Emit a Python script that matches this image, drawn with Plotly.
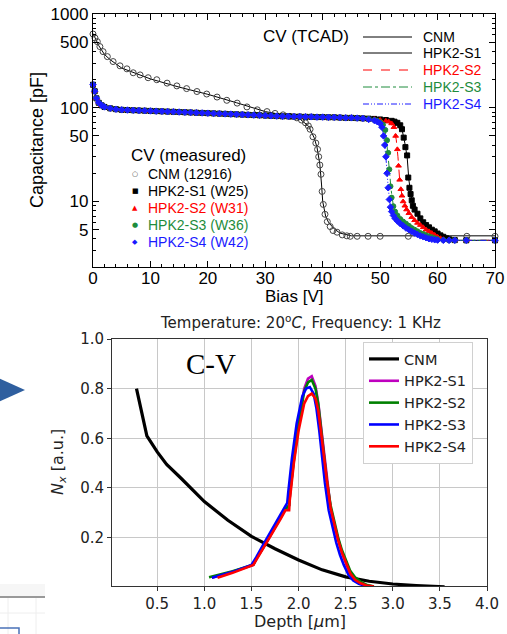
import plotly.graph_objects as go

W, H = 507, 634


def px(x):
    return x / W


def py(y):
    return 1 - y / H


# ---- top chart: CV measured / TCAD ----
cnm_bias = [0, 0.35, 0.75, 1.2, 1.75, 2.5, 3.5, 4.7, 5.9, 7, 8.2, 9.6, 11.1, 12.9, 14.6, 16.3, 18.1,
            19.8, 21.6, 23.3, 25.1, 26.8, 28.6, 30.3, 31.7, 33.1, 34.3, 35.5, 36.3, 37, 37.5, 37.8,
            38.3, 38.8, 39.1, 39.3, 39.5, 39.7, 39.9, 40.1, 40.4, 40.8, 41.3, 41.8, 42.5, 43.4, 44.2,
            44.8, 46, 47.9, 50, 54.9, 65.1, 70]
cnm_cap = [612, 555, 507, 449, 397, 351, 311, 280, 260, 236, 224, 209, 199, 183, 171, 160, 149,
           140, 130, 120, 112, 102, 95, 91, 87, 84, 81, 78, 74, 69, 64, 59,
           49, 42, 36, 30, 24.5, 19.5, 12.8, 9.3, 7.3, 6.1, 5.4, 4.9, 4.7, 4.4, 4.3,
           4.25, 4.25, 4.25, 4.25, 4.25, 4.25, 4.25]

# HPK measured: common plateau up to 47 V, then each sample's own tail
plateau_bias = [0, 0.3, 0.6, 1, 1.5, 2, 3, 4, 5, 6, 7, 8, 9, 10, 11, 12, 13, 14, 15, 16, 17, 18,
                19, 20, 21, 22, 23, 24, 25, 26, 27, 28, 29, 30, 31, 32, 33, 34, 35, 36, 37, 38,
                39, 40, 41, 42, 43, 44, 45, 46, 47]
plateau_cap = [176, 150, 126, 113, 106, 102, 98.5, 96.5, 95, 94.5, 94, 93.5, 93, 92.5, 92, 91.5,
               91, 90.5, 90, 89.5, 89, 88.5, 88, 87.5, 87, 86.5, 86, 85.5, 85, 84.5, 84, 83.5,
               83, 82.5, 82, 81.5, 81, 81, 80.5, 80.5, 80, 80, 79.5, 79.5, 79, 79, 78.5, 78, 78,
               77.5, 77]

s1_tail_bias = [48, 49, 50, 51, 52, 52.5, 53, 53.5, 53.8, 54.1, 54.4, 54.7, 54.9, 55.1, 55.3, 55.5,
                55.7, 56, 56.5, 57, 57.5, 58, 58.5, 59, 59.5, 60, 60.5, 61, 61.5, 62, 63, 65, 70]
s1_tail_cap = [76.5, 76, 75, 74, 72.5, 71, 69, 65, 59, 48, 38, 31, 18, 14, 12, 10.3,
               9, 8.2, 7.4, 6.6, 6.0, 5.6, 5.3, 5.0, 4.8, 4.55, 4.35, 4.2, 4.05, 3.95, 3.87, 3.85, 3.85]

s2_tail_bias = [48, 49, 50, 51, 51.5, 52, 52.4, 52.7, 53.0, 53.2, 53.4, 53.6, 53.8, 54.0, 54.3, 54.6,
                55, 55.5, 56, 56.5, 57, 57.5, 58, 58.5, 59, 59.5, 60, 60.5, 61, 62, 63, 65, 70]
s2_tail_cap = [76.5, 75.5, 74, 72.5, 71, 68, 62, 50, 36, 24, 17, 13.5, 11.5, 10, 9, 8.2,
               7.5, 6.8, 6.3, 5.9, 5.6, 5.3, 5.0, 4.8, 4.6, 4.4, 4.2, 4.05, 3.95, 3.87, 3.85, 3.85, 3.85]

s3_tail_bias = [48, 49, 49.5, 50, 50.5, 50.9, 51.2, 51.4, 51.6, 51.8, 52.0, 52.3, 52.6, 53, 53.5, 54,
                54.5, 55, 55.5, 56, 56.5, 57, 57.5, 58, 58.5, 59, 59.5, 60, 61, 62, 63, 65, 70]
s3_tail_cap = [76, 74, 72.5, 70, 66, 58, 45, 33, 22, 14.5, 11, 8.9, 7.8, 7.1, 6.5, 6.1,
               5.8, 5.5, 5.2, 5.0, 4.8, 4.6, 4.5, 4.35, 4.25, 4.15, 4.05, 3.95, 3.88, 3.85, 3.85, 3.85, 3.85]

s4_tail_bias = [48, 49, 49.5, 50, 50.3, 50.6, 50.8, 51.0, 51.2, 51.4, 51.6, 51.8, 52.0, 52.3, 52.6, 53,
                53.5, 54, 54.5, 55, 55.5, 56, 56.5, 57, 57.5, 58, 58.5, 59, 59.5, 60, 61, 62, 63, 65, 70]
s4_tail_cap = [75, 73, 71, 68, 62, 50, 40, 30, 20, 14, 10.5, 8.7, 7.8, 7.1, 6.6, 6.2,
               5.8, 5.5, 5.2, 5.0, 4.8, 4.6, 4.45, 4.3, 4.2, 4.1, 4.0, 3.95, 3.9, 3.87, 3.85, 3.85, 3.85, 3.85, 3.85]

# TCAD simulation curves
tcad_cnm_bias = [0, 0.5, 1, 2, 3, 5, 7.5, 10, 15, 20, 25, 30, 34, 36, 37.5, 38.5, 39, 39.5, 39.8, 40,
                 40.5, 41, 42, 43, 45, 50, 60, 70]
tcad_cnm_cap = [620, 530, 460, 370, 325, 265, 230, 203, 166, 139, 113, 91, 82, 76, 64, 48, 38, 25, 15, 10,
                7, 6.0, 5.1, 4.6, 4.3, 4.3, 4.3, 4.3]
tcad_s1_bias = [0, 0.5, 1, 2, 4, 10, 20, 30, 40, 46, 50, 52, 53, 53.8, 54.3, 54.7, 55, 55.5, 56, 57,
                58, 60, 62, 64, 70]
tcad_s1_cap = [172, 135, 114, 102, 96.5, 92.5, 87.5, 82.5, 79.5, 77.5, 75, 72.5, 69, 59, 42, 30, 17, 10.5, 8.2, 6.6,
               5.6, 4.55, 3.95, 3.85, 3.85]
tcad_s2_bias = [0, 0.5, 1, 2, 4, 10, 20, 30, 40, 46, 50, 51.5, 52.3, 52.8, 53.1, 53.4, 53.8, 54.3, 55, 56,
                57, 58, 60, 62, 64, 70]
tcad_s2_cap = [172, 135, 114, 102, 96.5, 92.5, 87.5, 82.5, 79.5, 77.5, 74, 71, 62, 46, 30, 17, 11.5, 9, 7.5, 6.3,
               5.6, 5.0, 4.2, 3.87, 3.85, 3.85]
tcad_s3_bias = [0, 0.5, 1, 2, 4, 10, 20, 30, 40, 46, 49, 50.5, 51, 51.3, 51.6, 51.9, 52.3, 53, 54, 55,
                56, 58, 60, 62, 70]
tcad_s3_cap = [172, 135, 114, 102, 96.5, 92.5, 87.5, 82.5, 79.5, 77.5, 74, 66, 52, 36, 22, 13.5, 9, 7.1, 6.1, 5.5,
               5.0, 4.35, 3.95, 3.85, 3.85]
tcad_s4_bias = [0, 0.5, 1, 2, 4, 10, 20, 30, 40, 46, 49, 50, 50.5, 50.8, 51.1, 51.4, 51.8, 52.5, 53.5, 55,
                56, 58, 60, 62, 70]
tcad_s4_cap = [172, 135, 114, 102, 96.5, 92.5, 87.5, 82.5, 79.5, 77.5, 73, 68, 55, 40, 25, 14, 8.7, 6.8, 5.8, 5.0,
               4.6, 4.1, 3.87, 3.85, 3.85]

# ---- bottom chart: C-V profiles ----
depth_cnm = [0.28, 0.39, 0.5, 0.6, 0.75, 1.0, 1.25, 1.5, 1.75, 2.0, 2.25, 2.5, 2.75, 3.0, 3.25, 3.5, 3.55]
nx_cnm = [0.80, 0.61, 0.545, 0.495, 0.44, 0.345, 0.27, 0.205, 0.155, 0.11, 0.07, 0.042, 0.024, 0.013,
          0.007, 0.003, 0.002]

depth_s1 = [1.08, 1.3, 1.52, 1.56, 1.65, 1.72, 1.81, 1.86, 1.9, 1.91, 1.95, 2.0, 2.06, 2.1, 2.14,
            2.18, 2.21, 2.24, 2.27, 2.3, 2.34, 2.38, 2.42, 2.46, 2.5, 2.55, 2.6, 2.66, 2.72, 2.8]
nx_s1 = [0.038, 0.062, 0.09, 0.12, 0.175, 0.22, 0.28, 0.315, 0.33, 0.38, 0.52, 0.66, 0.8, 0.84, 0.85,
         0.81, 0.74, 0.64, 0.53, 0.43, 0.32, 0.25, 0.19, 0.14, 0.1, 0.055, 0.03, 0.016, 0.007, 0.003]
depth_s2 = [1.05, 1.3, 1.52, 1.56, 1.65, 1.72, 1.81, 1.86, 1.9, 1.91, 1.95, 2.0, 2.06, 2.1, 2.14,
            2.18, 2.21, 2.24, 2.27, 2.3, 2.34, 2.38, 2.42, 2.46, 2.5, 2.55, 2.6, 2.66, 2.72, 2.8]
nx_s2 = [0.04, 0.064, 0.091, 0.12, 0.175, 0.22, 0.28, 0.315, 0.33, 0.38, 0.51, 0.65, 0.79, 0.825, 0.835,
         0.8, 0.735, 0.64, 0.53, 0.43, 0.33, 0.26, 0.2, 0.15, 0.11, 0.065, 0.04, 0.022, 0.01, 0.003]
depth_s3 = [1.08, 1.3, 1.5, 1.55, 1.63, 1.7, 1.79, 1.84, 1.88, 1.89, 1.93, 1.98, 2.04, 2.08, 2.12,
            2.16, 2.19, 2.22, 2.25, 2.28, 2.32, 2.36, 2.4, 2.44, 2.48, 2.53, 2.58, 2.64, 2.7, 2.78]
nx_s3 = [0.038, 0.062, 0.09, 0.12, 0.175, 0.22, 0.28, 0.315, 0.34, 0.38, 0.52, 0.66, 0.77, 0.8, 0.806,
         0.78, 0.72, 0.63, 0.52, 0.42, 0.31, 0.24, 0.18, 0.13, 0.09, 0.05, 0.027, 0.014, 0.006, 0.002]
depth_s4 = [1.14, 1.3, 1.52, 1.56, 1.65, 1.72, 1.81, 1.86, 1.9, 1.905, 1.95, 2.0, 2.06, 2.1, 2.14,
            2.18, 2.21, 2.24, 2.27, 2.3, 2.34, 2.38, 2.42, 2.46, 2.5, 2.55, 2.6, 2.66, 2.72, 2.8]
nx_s4 = [0.038, 0.058, 0.09, 0.115, 0.17, 0.215, 0.275, 0.31, 0.31, 0.345, 0.5, 0.63, 0.74, 0.77, 0.78,
         0.76, 0.71, 0.62, 0.52, 0.43, 0.32, 0.25, 0.19, 0.14, 0.1, 0.055, 0.03, 0.016, 0.007, 0.003]

RED = "#ff0000"
GREEN = "#1e8c3c"
BLUE = "#1a1aff"
ARIAL = "Liberation Sans, Arial"
DEJAVU = "DejaVu Sans"

fig = go.Figure()

# TCAD lines
tcad = [
    (tcad_cnm_bias, tcad_cnm_cap, "black", "solid"),
    (tcad_s1_bias, tcad_s1_cap, "black", "solid"),
    (tcad_s2_bias, tcad_s2_cap, RED, "dash"),
    (tcad_s3_bias, tcad_s3_cap, GREEN, "dashdot"),
    (tcad_s4_bias, tcad_s4_cap, BLUE, "6px,2px,1px,2px,1px,2px"),
]
for xb, yc, col, dash in tcad:
    fig.add_trace(go.Scatter(x=xb, y=yc, mode="lines", line=dict(color=col, width=1, dash=dash),
                             xaxis="x", yaxis="y", showlegend=False))

# measured markers
measured = [
    (cnm_bias, cnm_cap, "#444444", "circle-open", 6),
    (plateau_bias + s1_tail_bias, plateau_cap + s1_tail_cap, "black", "square", 5),
    (plateau_bias + s2_tail_bias, plateau_cap + s2_tail_cap, RED, "triangle-up", 5),
    (plateau_bias + s3_tail_bias, plateau_cap + s3_tail_cap, GREEN, "circle", 5),
    (plateau_bias + s4_tail_bias, plateau_cap + s4_tail_cap, BLUE, "diamond", 5),
]
for xb, yc, col, sym, sz in measured:
    fig.add_trace(go.Scatter(x=xb, y=yc, mode="markers",
                             marker=dict(color=col, symbol=sym, size=sz, line=dict(width=1, color=col)),
                             xaxis="x", yaxis="y", showlegend=False, cliponaxis=False))

# bottom chart profiles
profiles = [
    ("CNM", depth_cnm, nx_cnm, "black"),
    ("HPK2-S1", depth_s1, nx_s1, "#bf00bf"),
    ("HPK2-S2", depth_s2, nx_s2, "#008000"),
    ("HPK2-S3", depth_s3, nx_s3, "#0000ff"),
    ("HPK2-S4", depth_s4, nx_s4, "#ff0000"),
]
for name, d, n, col in profiles:
    fig.add_trace(go.Scatter(x=d, y=n, mode="lines", name=name,
                             line=dict(color=col, width=3.2 if name == "CNM" else 2.6),
                             xaxis="x2", yaxis="y2"))

fig.update_layout(
    width=W, height=H,
    margin=dict(l=0, r=0, t=0, b=0),
    paper_bgcolor="white", plot_bgcolor="white",
    xaxis=dict(domain=[px(93), px(495)], anchor="y", range=[0, 70], automargin=False,
               tickvals=[0, 10, 20, 30, 40, 50, 60, 70], ticks="inside", ticklen=6, tickwidth=1,
               minor=dict(dtick=2, ticks="inside", ticklen=3, tickcolor="black"),
               showline=True, linecolor="black", linewidth=1.3, mirror="ticks",
               showgrid=False, zeroline=False, tickcolor="black", ticklabelstandoff=-5,
               tickfont=dict(family=ARIAL, size=17, color="black")),
    yaxis=dict(domain=[py(267), py(14)], anchor="x", type="log", range=[0.301, 3], automargin=False,
               tickvals=[5, 10, 50, 100, 500, 1000], ticktext=["5", "10", "50", "100", "500", "1000"],
               ticks="inside", ticklen=6, tickwidth=1,
               minor=dict(dtick="D1", ticks="inside", ticklen=3, tickcolor="black"),
               showline=True, linecolor="black", linewidth=1.3, mirror="ticks",
               showgrid=False, zeroline=False, tickcolor="black",
               tickfont=dict(family=ARIAL, size=17, color="black")),
    xaxis2=dict(domain=[px(112), px(487)], anchor="y2", range=[0.02, 4.0], automargin=False,
                tickvals=[0.5, 1.0, 1.5, 2.0, 2.5, 3.0, 3.5, 4.0], tickformat=".1f",
                ticks="outside", ticklen=4, tickcolor="#333",
                showline=True, linecolor="#333", linewidth=1, mirror=True,
                showgrid=True, gridcolor="#c8c8c8", gridwidth=1, zeroline=False,
                tickfont=dict(family=DEJAVU, size=15, color="#222")),
    yaxis2=dict(domain=[py(586), py(339)], anchor="x2", range=[0.005, 1.0], automargin=False,
                tickvals=[0.2, 0.4, 0.6, 0.8, 1.0], tickformat=".1f",
                ticks="outside", ticklen=4, tickcolor="#333",
                showline=True, linecolor="#333", linewidth=1, mirror=True,
                showgrid=True, gridcolor="#c8c8c8", gridwidth=1, zeroline=False,
                tickfont=dict(family=DEJAVU, size=15, color="#222")),
    legend=dict(x=px(363), y=py(342), xanchor="left", yanchor="top",
                bgcolor="white", bordercolor="#d0d0d0", borderwidth=1,
                font=dict(family=DEJAVU, size=14.5, color="#222"), tracegroupgap=0),
)

ann = []


def text(x, y, s, size, family=ARIAL, color="black", xanchor="center", angle=0):
    ann.append(dict(x=px(x), y=py(y), xref="paper", yref="paper", text=s, showarrow=False,
                    xanchor=xanchor, yanchor="middle", textangle=angle,
                    font=dict(family=family, size=size, color=color)))


# top chart texts
text(37, 140, "Capacitance [pF]", 18, angle=-90)
text(294, 296, "Bias [V]", 17)
text(261, 37, "CV (TCAD)", 17, xanchor="left")
tcad_names = [("CNM", "black"), ("HPK2-S1", "black"), ("HPK2-S2", RED), ("HPK2-S3", GREEN), ("HPK2-S4", BLUE)]
tcad_y = [37, 53, 70, 87, 104]
for (nm, col), yy in zip(tcad_names, tcad_y):
    text(421, yy, nm, 14, color=col, xanchor="left")
text(129, 155, "CV (measured)", 17, xanchor="left")
meas_names = [("CNM (12916)", "black", "○", "#444444"), ("HPK2-S1 (W25)", "black", "■", "black"),
              ("HPK2-S2 (W31)", RED, "▲", RED), ("HPK2-S3 (W36)", GREEN, "●", GREEN),
              ("HPK2-S4 (W42)", BLUE, "◆", BLUE)]
meas_y = [174, 191, 208, 225, 242]
for (nm, col, glyph, gcol), yy in zip(meas_names, meas_y):
    text(135, yy, glyph, 7, family=DEJAVU, color=gcol)
    text(146, yy, nm, 14, color=col, xanchor="left")

# bottom chart texts
text(300, 322, "Temperature: 20<sup>o</sup><i>C</i>, Frequency: 1 KHz", 15, family=DEJAVU, color="#222")
text(211, 364, "C-V", 29, family="Liberation Serif, Times New Roman", color="black")
text(58, 462, "<i>N</i><sub><i>x</i></sub> [a.u.]", 16, family=DEJAVU, color="#222", angle=-90)
text(300, 621, "Depth [<i>μ</i>m]", 16, family=DEJAVU, color="#222")

shapes = []
# TCAD legend line samples
tcad_styles = [("black", "solid"), ("black", "solid"), (RED, "dash"), (GREEN, "dashdot"),
               (BLUE, "6px,2px,1px,2px,1px,2px")]
for (col, dash), yy in zip(tcad_styles, tcad_y):
    shapes.append(dict(type="line", xref="paper", yref="paper", x0=px(363), x1=px(412),
                       y0=py(yy), y1=py(yy), line=dict(color=col, width=1, dash=dash)))

# blue arrow on the left
shapes.append(dict(type="path", xref="paper", yref="paper",
                   path=f"M {px(-6)},{py(376)} L {px(25)},{py(390)} L {px(-6)},{py(404)} Z",
                   fillcolor="#2f5f9f", line=dict(width=0)))
# partial panel in the bottom-left corner
shapes.append(dict(type="rect", xref="paper", yref="paper", x0=0, x1=px(45), y0=py(597), y1=py(584),
                   fillcolor="#f6f6f6", line=dict(width=0)))
shapes.append(dict(type="line", xref="paper", yref="paper", x0=0, x1=px(45), y0=py(597), y1=py(597),
                   line=dict(color="#999999", width=2)))
for xx in [8, 36]:
    shapes.append(dict(type="line", xref="paper", yref="paper", x0=px(xx), x1=px(xx), y0=py(598), y1=0,
                       line=dict(color="#eeeeee", width=1)))
shapes.append(dict(type="line", xref="paper", yref="paper", x0=0, x1=px(45), y0=py(613), y1=py(613),
                   line=dict(color="#eeeeee", width=1)))
shapes.append(dict(type="path", xref="paper", yref="paper",
                   path=f"M 0,{py(628)} L {px(19)},{py(628)} L {px(19)},0",
                   line=dict(color="#4a72b8", width=1.5)))

fig.update_layout(annotations=ann, shapes=shapes)

# remove the default page margin so the figure sits at the window's top-left corner
fig.write_html("out.html", config={"displayModeBar": False},
               post_script="document.body.style.margin='0';")
